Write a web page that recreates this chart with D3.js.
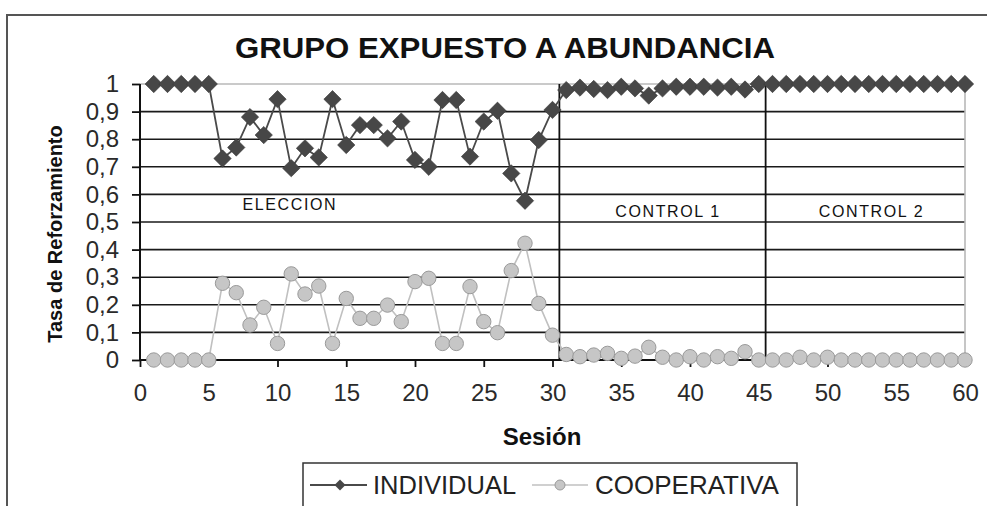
<!DOCTYPE html>
<html>
<head>
<meta charset="utf-8">
<script src="https://cdn.jsdelivr.net/npm/d3@7"></script>
<style>
  html, body { margin: 0; padding: 0; background: #ffffff; }
  svg { display: block; font-family: "Liberation Sans", Arial, sans-serif; }
</style>
</head>
<body>
<svg id="chart" width="987" height="506"></svg>
<script>
// ---- Data ----
const sessions = [1,2,3,4,5,6,7,8,9,10,11,12,13,14,15,16,17,18,19,20,21,22,23,24,25,26,27,28,29,30,
                  31,32,33,34,35,36,37,38,39,40,41,42,43,44,45,46,47,48,49,50,51,52,53,54,55,56,57,58,59,60];
const individual = [1,1,1,1,1,
  0.73,0.77,0.88,0.815,0.945,0.695,0.767,0.734,0.945,0.779,
  0.851,0.851,0.803,0.864,0.725,0.70,0.942,0.942,0.737,0.864,
  0.903,0.676,0.577,0.797,0.906,
  0.978,0.987,0.982,0.978,0.99,0.984,0.958,0.984,0.99,0.99,0.99,0.987,0.99,0.98,
  1,1,1,1,1,1,1,1,1,1,1,1,1,1,1,1];
const cooperativa = [0,0,0,0,0,
  0.278,0.244,0.127,0.191,0.06,0.312,0.239,0.268,0.06,0.223,
  0.151,0.151,0.199,0.139,0.284,0.296,0.06,0.06,0.266,0.139,
  0.099,0.324,0.423,0.205,0.09,
  0.02,0.012,0.018,0.024,0.006,0.014,0.046,0.01,0,0.012,0,0.012,0.006,0.03,0,
  0,0,0.01,0,0.01,0,0,0,0,0,0,0,0,0,0];
const xTicks = [0,5,10,15,20,25,30,35,40,45,50,55,60];
const yTicks = [0,0.1,0.2,0.3,0.4,0.5,0.6,0.7,0.8,0.9,1];
const yTickLabels = ["0","0,1","0,2","0,3","0,4","0,5","0,6","0,7","0,8","0,9","1"];
const phaseBreaks = [30.5, 45.5];
const phases = [{name:"ELECCION", x:10.9, y:0.56}, {name:"CONTROL 1", x:38.4, y:0.535}, {name:"CONTROL 2", x:53.2, y:0.535}];
const seriesNames = ["INDIVIDUAL", "COOPERATIVA"];
const title = "GRUPO EXPUESTO A ABUNDANCIA";
const xTitle = "Sesión";
const yTitle = "Tasa de Reforzamiento";

// ---- Layout ----
const svg = d3.select("#chart");
const L = 140, R = 965, T = 84, B = 360;
const x = d3.scaleLinear().domain([0,60]).range([L,R]);
const y = d3.scaleLinear().domain([0,1]).range([B,T]);

// outer chart border
svg.append("rect").attr("x",7).attr("y",15).attr("width",1100).attr("height",600)
  .attr("fill","#fff").attr("stroke","#555").attr("stroke-width",2);

// title
svg.append("text").attr("x",505).attr("y",58).attr("text-anchor","middle")
  .attr("font-size",29).attr("font-weight","bold").attr("fill","#111")
  .attr("textLength",540).attr("lengthAdjust","spacingAndGlyphs").text(title);

// gridlines
const g = svg.append("g");
g.selectAll("line.grid").data(yTicks.filter(v => v > 0 && v < 1)).join("line")
  .attr("x1",L).attr("x2",R).attr("y1",d=>y(d)).attr("y2",d=>y(d))
  .attr("stroke","#1a1a1a").attr("stroke-width",1.6);
g.append("line").attr("x1",L).attr("x2",R).attr("y1",y(1)).attr("y2",y(1))
  .attr("stroke","#b8b8b8").attr("stroke-width",1.6);
g.append("line").attr("x1",R).attr("x2",R).attr("y1",y(1)).attr("y2",y(0))
  .attr("stroke","#b8b8b8").attr("stroke-width",1.6);

// phase break lines
g.selectAll("line.phase").data(phaseBreaks).join("line")
  .attr("x1",d=>x(d)).attr("x2",d=>x(d)).attr("y1",y(1)).attr("y2",y(0))
  .attr("stroke","#111").attr("stroke-width",1.8);

// phase labels
g.selectAll("text.phase").data(phases).join("text")
  .attr("x",d=>x(d.x)).attr("y",d=>y(d.y)).attr("text-anchor","middle")
  .attr("font-size",16).attr("letter-spacing",1.6).attr("fill","#111")
  .attr("dominant-baseline","middle").text(d=>d.name);

// axes
const yAxis = d3.axisLeft(y).tickValues(yTicks).tickFormat((d,i)=>yTickLabels[i]).tickSize(8).tickPadding(13);
const xAxis = d3.axisBottom(x).tickValues(xTicks).tickFormat(d=>String(d)).tickSize(7).tickPadding(17);
const ya = svg.append("g").attr("transform",`translate(${L},0)`).call(yAxis);
const xa = svg.append("g").attr("transform",`translate(0,${B})`).call(xAxis);
[ya, xa].forEach(a => {
  a.select(".domain").attr("stroke","#111").attr("stroke-width",2);
  a.selectAll(".tick line").attr("stroke","#111").attr("stroke-width",1.8);
  a.selectAll(".tick text").attr("font-size",24).attr("fill","#2a2a2a")
    .attr("font-family","'Liberation Sans', Arial, sans-serif");
});
xa.select(".domain").attr("d",`M${L},0H${R}`);
ya.select(".domain").attr("d",`M0,${y(1)}V${y(0)}`);

// axis titles
svg.append("text").attr("x",542).attr("y",445).attr("text-anchor","middle")
  .attr("font-size",24).attr("font-weight","bold").attr("fill","#111").text(xTitle);
svg.append("text").attr("transform",`translate(62,234) rotate(-90)`).attr("text-anchor","middle")
  .attr("font-size",20).attr("font-weight","bold").attr("fill","#111").text(yTitle);

// series
const indData = sessions.map((s,i)=>[s, individual[i]]);
const coopData = sessions.map((s,i)=>[s, cooperativa[i]]);
const line = d3.line().x(d=>x(d[0])).y(d=>y(d[1]));

const diamond = d3.symbol().type(d3.symbolSquare).size(150);
const ps = svg.append("g");
ps.append("path").datum(indData).attr("d",line).attr("fill","none")
  .attr("stroke","#4a4a4a").attr("stroke-width",1.8);
ps.selectAll("path.ind").data(indData).join("path")
  .attr("transform",d=>`translate(${x(d[0])},${y(d[1])}) rotate(45)`)
  .attr("d",diamond).attr("fill","#474747").attr("stroke","#3a3a3a").attr("stroke-width",0.6);

ps.append("path").datum(coopData).attr("d",line).attr("fill","none")
  .attr("stroke","#c0c0c0").attr("stroke-width",1.6);
ps.selectAll("circle.coop").data(coopData).join("circle")
  .attr("cx",d=>x(d[0])).attr("cy",d=>y(d[1])).attr("r",7.2)
  .attr("fill","#c6c6c6").attr("stroke","#9a9a9a").attr("stroke-width",1);

// legend
const lg = svg.append("g");
lg.append("rect").attr("x",303).attr("y",463).attr("width",494).attr("height",60)
  .attr("fill","#fff").attr("stroke","#333").attr("stroke-width",1.5);
const ly = 485;
// INDIVIDUAL
lg.append("line").attr("x1",310).attr("x2",367).attr("y1",ly).attr("y2",ly).attr("stroke","#4a4a4a").attr("stroke-width",2);
lg.append("path").attr("transform",`translate(340,${ly}) rotate(45)`).attr("d",d3.symbol().type(d3.symbolSquare).size(60)).attr("fill","#474747");
lg.append("text").attr("x",373).attr("y",ly).attr("dominant-baseline","central").attr("font-size",25.5).attr("fill","#222").text(seriesNames[0]);
// COOPERATIVA
lg.append("line").attr("x1",532).attr("x2",588).attr("y1",ly).attr("y2",ly).attr("stroke","#c0c0c0").attr("stroke-width",1.6);
lg.append("circle").attr("cx",560).attr("cy",ly).attr("r",5).attr("fill","#c6c6c6").attr("stroke","#9a9a9a");
lg.append("text").attr("x",595).attr("y",ly).attr("dominant-baseline","central").attr("font-size",26).attr("fill","#222").text(seriesNames[1]);
</script>
</body>
</html>
